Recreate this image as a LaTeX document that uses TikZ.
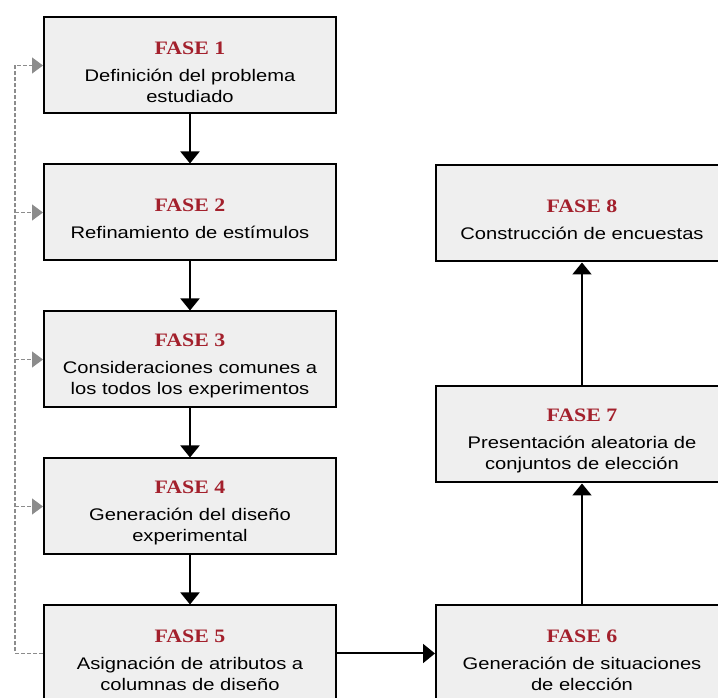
\documentclass[tikz,border=0pt]{standalone}
\usepackage{fontspec}
\setmainfont{Liberation Sans}[FakeStretch=1.2]
\newfontfamily\fasefont{Liberation Serif}[FakeStretch=1.15]
\usetikzlibrary{positioning, arrows.meta}
\definecolor{FaseRot}{HTML}{A3202C}
\definecolor{BoxGrau}{HTML}{EFEFEF}
\definecolor{LinkGrau}{HTML}{8C8C8C}
\newcommand{\fase}[1]{\rule{0pt}{26pt}{\fasefont\fontsize{19}{21}\selectfont\bfseries\color{FaseRot}FASE #1}\\[6pt]}

\begin{document}
\begin{tikzpicture}[x=1pt, y=1pt,
    fasebox/.style={draw, line width=2pt, fill=BoxGrau, minimum width=292pt, minimum height=96pt,
        text width=285pt, align=center, inner sep=0pt, font=\fontsize{16.8}{21}\selectfont},
    flow/.style={line width=2pt, -{Triangle[width=19pt, length=12pt]}},
    feedback/.style={LinkGrau, line width=1.3pt, dash pattern=on 4pt off 2pt, -{Triangle[width=16pt, length=11pt]}}]
    \useasboundingbox (0,0) rectangle (718,698);
    \clip (0,0) rectangle (718,698);
    % left column
    \node[fasebox] (f1) at (190,632.5) {\fase{1}Definición del problema\\estudiado};
    \node[fasebox, below=49pt of f1] (f2) {\fase{2}Refinamiento de estímulos};
    \node[fasebox, below=49pt of f2] (f3) {\fase{3}Consideraciones comunes a\\los todos los experimentos};
    \node[fasebox, below=49pt of f3] (f4) {\fase{4}Generación del diseño\\experimental};
    \node[fasebox, below=49pt of f4] (f5) {\fase{5}Asignación de atributos a\\columnas de diseño};
    % right column
    \node[fasebox, right=98pt of f5] (f6) {\fase{6}Generación de situaciones\\de elección};
    \node[fasebox, above=121pt of f6] (f7) {\fase{7}Presentación aleatoria de\\conjuntos de elección};
    \node[fasebox, above=123pt of f7] (f8) {\fase{8}Construcción de encuestas};
    % main flow
    \foreach \a/\b in {f1/f2, f2/f3, f3/f4, f4/f5, f5/f6, f6/f7, f7/f8}
        \draw[flow] (\a) -- (\b);
    % feedback line
    \coordinate[left=28pt of f5.west] (rueck);
    \draw[feedback] (f5.west) -- (rueck) |- (f1.west);
    \foreach \n in {2,3,4}
        \draw[feedback] (rueck |- f\n.west) -- (f\n.west);
\end{tikzpicture}
\end{document}
